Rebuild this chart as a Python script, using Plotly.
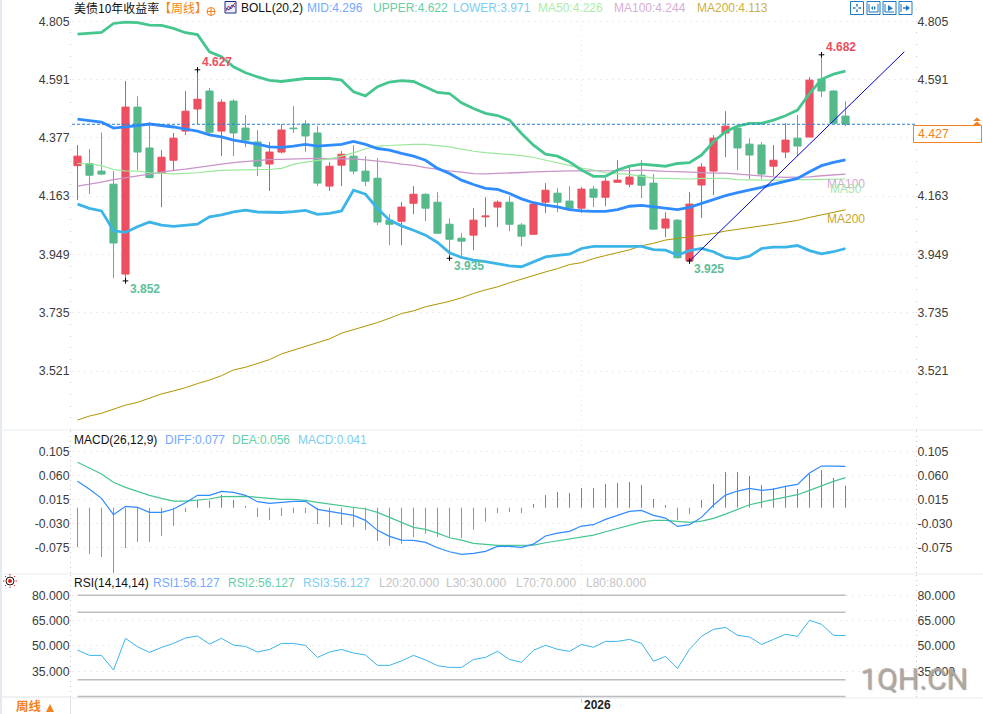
import plotly.graph_objects as go

# ---- weekly candles ----
opens = [4.275,4.283,4.255,4.207,3.877,4.490,4.340,4.247,4.295,4.402,4.483,4.549,4.402,4.512,4.413,4.362,4.281,4.325,4.413,4.428,4.395,4.200,4.277,4.310,4.255,4.229,4.075,4.071,4.137,4.170,4.141,4.060,4.009,4.020,4.087,4.123,4.141,4.057,4.023,4.141,4.174,4.145,4.119,4.189,4.159,4.214,4.207,4.240,4.211,4.046,4.075,3.926,4.204,4.255,4.395,4.413,4.354,4.351,4.273,4.325,4.376,4.380,4.593,4.549,4.457]
closes = [4.310,4.240,4.244,3.991,4.490,4.325,4.231,4.306,4.376,4.475,4.519,4.398,4.508,4.395,4.369,4.273,4.325,4.406,4.411,4.384,4.211,4.273,4.317,4.255,4.218,4.068,4.060,4.123,4.170,4.119,4.027,4.005,3.998,4.075,4.090,4.141,4.060,4.016,4.134,4.185,4.141,4.119,4.189,4.159,4.218,4.222,4.233,4.203,4.042,4.079,3.937,4.134,4.270,4.376,4.420,4.340,4.314,4.244,4.295,4.369,4.347,4.589,4.549,4.431,4.427]
highs = [4.351,4.336,4.397,4.255,4.586,4.530,4.435,4.332,4.395,4.549,4.627,4.560,4.519,4.519,4.461,4.406,4.362,4.428,4.494,4.442,4.420,4.288,4.328,4.350,4.310,4.303,4.097,4.141,4.200,4.174,4.178,4.082,4.027,4.119,4.159,4.148,4.163,4.064,4.134,4.211,4.192,4.200,4.196,4.200,4.229,4.295,4.277,4.295,4.244,4.104,4.079,4.178,4.284,4.387,4.475,4.420,4.376,4.362,4.351,4.431,4.461,4.600,4.682,4.552,4.512]
lows = [4.149,4.171,4.242,3.862,3.852,4.259,4.231,4.123,4.254,4.387,4.428,4.384,4.310,4.310,4.343,4.237,4.182,4.320,4.395,4.325,4.200,4.182,4.200,4.244,4.200,4.057,3.983,3.983,4.097,4.071,4.027,3.935,3.943,3.965,4.049,4.049,4.034,3.979,4.023,4.101,4.104,4.112,4.101,4.123,4.126,4.214,4.196,4.156,4.042,4.013,3.934,3.925,4.083,4.167,4.306,4.259,4.226,4.226,4.237,4.303,4.310,4.380,4.527,4.431,4.420]

# ---- Bollinger bands and moving averages ----
boll_upper = [4.758,4.761,4.764,4.797,4.802,4.800,4.791,4.790,4.779,4.763,4.756,4.693,4.675,4.638,4.616,4.601,4.588,4.584,4.589,4.595,4.595,4.595,4.589,4.546,4.531,4.565,4.582,4.587,4.584,4.565,4.544,4.540,4.506,4.485,4.467,4.459,4.442,4.393,4.350,4.317,4.310,4.289,4.259,4.236,4.236,4.259,4.273,4.281,4.277,4.273,4.283,4.286,4.314,4.363,4.400,4.420,4.430,4.430,4.442,4.458,4.479,4.540,4.592,4.611,4.622]
boll_mid = [4.446,4.440,4.435,4.413,4.417,4.422,4.428,4.423,4.417,4.409,4.402,4.388,4.381,4.369,4.362,4.354,4.344,4.342,4.347,4.353,4.347,4.349,4.353,4.364,4.353,4.338,4.332,4.320,4.310,4.295,4.265,4.246,4.222,4.206,4.192,4.188,4.173,4.153,4.139,4.130,4.124,4.114,4.109,4.107,4.107,4.114,4.126,4.129,4.124,4.117,4.114,4.122,4.136,4.152,4.165,4.176,4.185,4.195,4.207,4.218,4.228,4.253,4.275,4.287,4.296]
boll_lower = [4.134,4.118,4.109,4.036,4.030,4.051,4.068,4.057,4.052,4.057,4.060,4.087,4.094,4.105,4.112,4.105,4.103,4.103,4.106,4.111,4.096,4.100,4.109,4.185,4.170,4.118,4.075,4.054,4.038,4.020,3.993,3.955,3.938,3.928,3.923,3.916,3.907,3.904,3.922,3.940,3.946,3.950,3.971,3.979,3.979,3.979,3.979,3.979,3.967,3.965,3.947,3.963,3.971,3.959,3.938,3.933,3.943,3.971,3.976,3.976,3.982,3.963,3.951,3.959,3.971]
ma50 = [4.283,4.282,4.275,4.261,4.256,4.255,4.249,4.247,4.245,4.247,4.249,4.254,4.258,4.259,4.260,4.261,4.261,4.265,4.280,4.288,4.294,4.300,4.310,4.322,4.337,4.347,4.349,4.352,4.353,4.353,4.349,4.344,4.336,4.328,4.323,4.320,4.317,4.312,4.305,4.295,4.285,4.276,4.266,4.259,4.249,4.246,4.243,4.236,4.229,4.228,4.227,4.226,4.228,4.229,4.228,4.224,4.222,4.222,4.222,4.222,4.223,4.224,4.225,4.226,4.226]
ma100 = [4.200,4.207,4.215,4.224,4.231,4.237,4.244,4.250,4.258,4.262,4.269,4.275,4.281,4.286,4.291,4.294,4.297,4.298,4.300,4.302,4.302,4.300,4.301,4.300,4.296,4.292,4.287,4.281,4.276,4.268,4.261,4.256,4.251,4.246,4.245,4.246,4.248,4.250,4.252,4.254,4.255,4.256,4.256,4.256,4.255,4.256,4.257,4.259,4.256,4.254,4.253,4.251,4.249,4.248,4.248,4.244,4.240,4.238,4.234,4.232,4.232,4.234,4.238,4.241,4.244]
ma200 = [3.341,3.356,3.366,3.380,3.396,3.406,3.421,3.437,3.448,3.460,3.475,3.488,3.504,3.525,3.535,3.549,3.563,3.584,3.598,3.612,3.625,3.639,3.660,3.673,3.688,3.699,3.715,3.732,3.742,3.757,3.767,3.777,3.790,3.806,3.819,3.830,3.845,3.859,3.873,3.885,3.897,3.912,3.919,3.934,3.945,3.955,3.966,3.981,3.990,4.002,4.008,4.013,4.020,4.026,4.035,4.042,4.048,4.054,4.060,4.067,4.074,4.085,4.094,4.102,4.113]

# Hand-drawn support line from the 3.925 low
trend_x = [51, 68.9]
trend_y = [3.925, 4.693]

# ---- MACD ----
diff = [0.0491,0.0342,0.0174,-0.0130,0.0025,0.0006,-0.0087,-0.0087,-0.0025,0.0093,0.0230,0.0230,0.0304,0.0286,0.0230,0.0112,0.0081,0.0099,0.0118,0.0118,-0.0031,-0.0068,-0.0106,-0.0143,-0.0236,-0.0422,-0.0534,-0.0603,-0.0609,-0.0646,-0.0746,-0.0820,-0.0870,-0.0851,-0.0814,-0.0721,-0.0721,-0.0740,-0.0678,-0.0528,-0.0473,-0.0442,-0.0342,-0.0317,-0.0218,-0.0150,-0.0069,-0.0050,-0.0143,-0.0193,-0.0348,-0.0317,-0.0181,0.0049,0.0235,0.0310,0.0360,0.0322,0.0347,0.0397,0.0434,0.0645,0.0775,0.0775,0.077]
dea = [0.0845,0.0733,0.0627,0.0472,0.0379,0.0304,0.0230,0.0174,0.0124,0.0124,0.0143,0.0162,0.0205,0.0211,0.0211,0.0193,0.0174,0.0155,0.0155,0.0137,0.0099,0.0068,0.0044,0.0006,-0.0025,-0.0087,-0.0180,-0.0261,-0.0367,-0.0404,-0.0473,-0.0560,-0.0603,-0.0665,-0.0684,-0.0702,-0.0702,-0.0702,-0.0696,-0.0653,-0.0615,-0.0584,-0.0553,-0.0510,-0.0448,-0.0386,-0.0330,-0.0268,-0.0237,-0.0237,-0.0255,-0.0274,-0.0249,-0.0199,-0.0119,-0.0032,0.0055,0.0105,0.0155,0.0198,0.0242,0.0322,0.0409,0.0490,0.056]
macd_hist = [-0.0733,-0.0863,-0.0919,-0.1217,-0.0751,-0.0640,-0.0640,-0.0528,-0.0341,-0.0081,0.0143,0.0131,0.0236,0.0143,0.0031,-0.0174,-0.0230,-0.0155,-0.0099,-0.0099,-0.0304,-0.0360,-0.0323,-0.0360,-0.0416,-0.0621,-0.0714,-0.0671,-0.0547,-0.0485,-0.0547,-0.0547,-0.0566,-0.0410,-0.0261,-0.0100,-0.0081,-0.0100,0.0068,0.0235,0.0291,0.0273,0.0366,0.0366,0.0440,0.0459,0.0478,0.0422,0.0161,0.0049,-0.0230,-0.0119,0.0142,0.0440,0.0664,0.0664,0.0589,0.0422,0.0366,0.0391,0.0347,0.0627,0.0701,0.0552,0.041]

# ---- RSI (the three periods coincide) ----
rsi = [47.6,44.4,44.4,35.7,54.5,49.5,46.2,49.1,51.5,54.7,55.9,51.1,54.5,50.5,49.7,46.4,47.9,51.5,51.5,50.3,43.2,46.4,47.9,45.8,44.6,38.5,38.5,41.1,44.4,41.7,38.3,37.3,37.3,42.0,43.2,46.8,42.0,40.3,47.4,50.4,48.0,46.8,50.9,49.2,52.7,52.7,53.9,51.5,40.9,43.8,36.7,48.0,55.7,59.8,61.0,56.3,55.3,50.9,53.9,56.9,55.7,65.2,62.8,56.3,56.127]
rsi_levels = [20, 30, 70, 80]

# ---- axis ticks and text ----
price_ticks = [4.805, 4.591, 4.377, 4.163, 3.949, 3.735, 3.521]
# The right-hand scale gives up 4.377 to the latest-price tag
price_ticks_right = [4.805, 4.591, 4.163, 3.949, 3.735, 3.521]
macd_ticks = [0.105, 0.060, 0.015, -0.030, -0.075]
rsi_ticks = [80, 65, 50, 35]
year_index = 42
year_label = "2026"
chart_title = "美债10年收益率"
period_label = "周线"
last_price = closes[-1]
# (bar index, value, above?) of the marked extremes
extremes = [(10, highs[10], True), (4, lows[4], False), (31, lows[31], False), (51, lows[51], False), (62, highs[62], True)]

index = list(range(len(closes)))

RED = "#ec4f60"
GREEN = "#55b98a"
UPPER = "#45c68f"
MID = "#2f8cff"
LOWER = "#3bb4e8"
C50 = "#9be89b"
C100 = "#c994c9"
C200 = "#b09400"
SANS = "Liberation Sans, Noto Sans CJK SC, sans-serif"
CJK = "Noto Sans CJK SC, Liberation Sans, sans-serif"

W, H = 983, 714
L, R, B = 72, 68, 16
PW, PH = W - L - R, H - B
MAIN_BOTTOM, MACD_BOTTOM = 430, 574


def px(x):
    return (x - L) / PW


def py(y):
    return (PH - y) / PH


fig = go.Figure()

fig.add_trace(go.Candlestick(
    x=index, open=opens, high=highs, low=lows, close=closes, whiskerwidth=0,
    increasing=dict(line=dict(color=RED, width=1), fillcolor=RED),
    decreasing=dict(line=dict(color=GREEN, width=1), fillcolor=GREEN),
    hoverinfo="skip", xaxis="x", yaxis="y"))

for series, color, width in [(ma200, C200, 1), (ma100, C100, 1.3), (ma50, C50, 1.2),
                             (boll_upper, UPPER, 2.8), (boll_lower, LOWER, 2.8), (boll_mid, MID, 2.8)]:
    fig.add_trace(go.Scatter(x=index, y=series, mode="lines", line=dict(color=color, width=width),
                             hoverinfo="skip", xaxis="x", yaxis="y"))

fig.add_trace(go.Scatter(x=trend_x, y=trend_y, mode="lines", line=dict(color="#0000d8", width=1),
                         hoverinfo="skip", xaxis="x", yaxis="y"))

fig.add_trace(go.Scatter(
    x=[e[0] for e in extremes], y=[e[1] for e in extremes], mode="markers",
    marker=dict(symbol="cross-thin", size=4, line=dict(color="#000000", width=1)),
    hoverinfo="skip", xaxis="x", yaxis="y"))


def stems(keep):
    """One-pixel histogram stems from zero, split by sign, separated by gaps."""
    xs, ys = [], []
    for i, v in zip(index, macd_hist):
        if keep(v):
            xs += [i, i, None]
            ys += [0, v, None]
    return xs, ys


for keep, color in [(lambda v: v > 0, RED), (lambda v: v <= 0, GREEN)]:
    xs, ys = stems(keep)
    fig.add_trace(go.Scatter(x=xs, y=ys, mode="lines", line=dict(color=color, width=1),
                             hoverinfo="skip", xaxis="x", yaxis="y2"))
fig.add_trace(go.Scatter(x=index, y=dea, mode="lines", line=dict(color=UPPER, width=1.2),
                         hoverinfo="skip", xaxis="x", yaxis="y2"))
fig.add_trace(go.Scatter(x=index, y=diff, mode="lines", line=dict(color=MID, width=1.2),
                         hoverinfo="skip", xaxis="x", yaxis="y2"))

for level in rsi_levels:
    fig.add_trace(go.Scatter(x=[index[0], index[-1]], y=[level, level], mode="lines",
                             line=dict(color="#bdbdbd", width=1.6),
                             hoverinfo="skip", xaxis="x", yaxis="y3"))
fig.add_trace(go.Scatter(x=index, y=rsi, mode="lines", line=dict(color=LOWER, width=1),
                         hoverinfo="skip", xaxis="x", yaxis="y3"))

# Single-point traces keep the right-hand axes on the page
for axis, value in [("y4", price_ticks[0]), ("y5", macd_ticks[0]), ("y6", rsi_ticks[0])]:
    fig.add_trace(go.Scatter(x=[0], y=[value], mode="lines", line=dict(width=0),
                             hoverinfo="skip", xaxis="x", yaxis=axis))


def y_axis(ticks, rng, domain, minor_step, **extra):
    return dict(
        domain=domain, range=rng, tickvals=ticks, ticktext=[f"{v:.3f}" for v in ticks], fixedrange=True,
        showgrid=True, gridcolor="#ececec", griddash="2px,4px", gridwidth=1,
        zeroline=False, showline=False, ticks="outside", ticklen=1, tickcolor="#cfcfcf",
        ticklabelstandoff=-2,
        tickfont=dict(family=SANS, size=12.3, color="#3c3c3c"),
        minor=dict(ticks="outside", ticklen=1, tickcolor="#c8c8c8", tick0=ticks[0], dtick=minor_step, showgrid=False),
        **extra)


price_range = [4.805 - (MAIN_BOTTOM - 21.3) / 272.4, 4.805 + 21.3 / 272.4]
macd_range = [0.105 - (MACD_BOTTOM - 451.3) / 537, 0.105 + (451.3 - MAIN_BOTTOM) / 537]
rsi_range = [80 - (PH - 595.3) / 1.688, 80 + (595.3 - MACD_BOTTOM) / 1.688]
main_dom = [(PH - MAIN_BOTTOM) / PH, 1]
macd_dom = [(PH - MACD_BOTTOM) / PH, (PH - MAIN_BOTTOM) / PH]
rsi_dom = [0, (PH - MACD_BOTTOM) / PH]

annotations = []


def label(x, y, text, color, size=12, family=SANS, anchor="left"):
    annotations.append(dict(xref="paper", yref="paper", x=px(x), y=py(y), text=text, showarrow=False,
                            xanchor=anchor, yanchor="middle", borderpad=0,
                            font=dict(family=family, size=size, color=color)))


# Indicator legends
label(73, 8, chart_title, "#111111", family=CJK)
label(158, 8, f"【{period_label}】", "#f58220", family=CJK)
label(240, 8, "BOLL(20,2)", "#111111")
label(306, 8, f"MID:{boll_mid[-1]:.3f}", "#73a9ff")
label(372, 8, f"UPPER:{boll_upper[-1]:.3f}", "#66cfa6")
label(452, 8, f"LOWER:{boll_lower[-1]:.3f}", "#7dcdf0")
label(537, 8, f"MA50:{ma50[-1]:.3f}", "#aaecaa")
label(613, 8, f"MA100:{ma100[-1]:.3f}", "#d8aed8")
label(696, 8, f"MA200:{ma200[-1]:.3f}", "#cdb040")

label(73, 440, "MACD(26,12,9)", "#111111")
label(164, 440, f"DIFF:{diff[-1]:.3f}", "#73a9ff")
label(231, 440, f"DEA:{dea[-1]:.3f}", "#66cfa6")
label(297, 440, f"MACD:{macd_hist[-1]:.3f}", "#7dcdf0")

label(73, 583, "RSI(14,14,14)", "#111111")
label(152, 583, f"RSI1:{rsi[-1]:.3f}", "#73a9ff")
label(227, 583, f"RSI2:{rsi[-1]:.3f}", "#66cfa6")
label(302, 583, f"RSI3:{rsi[-1]:.3f}", "#7dcdf0")
for lx, level in zip([378, 445, 515, 585], rsi_levels):
    label(lx, 583, f"L{level}:{level:.3f}", "#c4c4c4")

# Extreme values beside their cross marks
for i, value, above in extremes:
    annotations.append(dict(xref="x", yref="y", x=i, y=value, text=f"<b>{value:.3f}</b>", showarrow=False,
                            xanchor="left", yanchor="middle", xshift=2, yshift=8 if above else -8,
                            font=dict(family=SANS, size=12, color=RED if above else "#5cc097")))

# Moving-average names at the line ends
for series, name, color, shift in [(ma100, "MA100", "#d4a8d4", -10), (ma50, "MA50", "#a8e8a8", -10), (ma200, "MA200", "#c9a628", -9.5)]:
    annotations.append(dict(xref="x", yref="y", x=index[-1], y=series[-1], text=name, showarrow=False,
                            xanchor="center", yanchor="middle", yshift=shift,
                            font=dict(family=SANS, size=12, color=color)))

# Time axis and period tab
annotations.append(dict(xref="x", yref="paper", x=year_index, y=py(705), text=f"<b>{year_label}</b>", showarrow=False,
                        xanchor="left", yanchor="middle", xshift=0,
                        font=dict(family=SANS, size=12, color="#222222")))
label(15, 705, f"<b>{period_label}</b>", "#f58220", size=12.5, family=CJK)

# Site mark in the lower right corner
annotations.append(dict(xref="paper", yref="paper", x=px(913.5), y=py(678), text="1QH.CN", showarrow=False,
                        xanchor="center", yanchor="middle",
                        font=dict(family="Roboto, Liberation Sans, sans-serif", size=30,
                                  color="rgba(178,170,162,0.85)", shadow="1px 1px 1px #8a8a8a")))

shapes = []


def rect(x0, y0, x1, y1, line=None, fill=None, width=1):
    shapes.append(dict(type="rect", xref="paper", yref="paper", x0=px(x0), x1=px(x1), y0=py(y0), y1=py(y1),
                       line=dict(color=line or "rgba(0,0,0,0)", width=width if line else 0),
                       fillcolor=fill or "rgba(0,0,0,0)", layer="above"))


def seg(x0, y0, x1, y1, color, width=1):
    shapes.append(dict(type="line", xref="paper", yref="paper", x0=px(x0), x1=px(x1), y0=py(y0), y1=py(y1),
                       line=dict(color=color, width=width), layer="above"))


def circle(cx, cy, r, line=None, fill=None, width=1):
    shapes.append(dict(type="circle", xref="paper", yref="paper", x0=px(cx - r), x1=px(cx + r), y0=py(cy - r), y1=py(cy + r),
                       line=dict(color=line or "rgba(0,0,0,0)", width=width if line else 0),
                       fillcolor=fill or "rgba(0,0,0,0)", layer="above"))


def poly(points, fill=None, line=None, width=1):
    d = "M" + " L".join(f"{px(x):.5f},{py(y):.5f}" for x, y in points) + (" Z" if fill else "")
    shapes.append(dict(type="path", xref="paper", yref="paper", path=d, fillcolor=fill or "rgba(0,0,0,0)",
                       line=dict(color=line or "rgba(0,0,0,0)", width=width if line else 0), layer="above"))


# Page frame and panel separators
rect(0, 0, 2, H, fill="#e4e8ef")
for sep in (MAIN_BOTTOM, MACD_BOTTOM):
    seg(0, sep, W, sep, "#e8edf2")
seg(L, PH, W, PH, "#e8edf2")

# Last-price dashed line
shapes.append(dict(type="line", xref="paper", yref="y", x0=0, x1=1, y0=last_price, y1=last_price,
                   line=dict(color="#2a7fd8", width=1, dash="3px,2px"), layer="above"))

# Price tag box and arrows
rect(913.5, 125.5, 981.5, 142.5, line="#f58220", fill="#ffffff")
label(917, 134, f"{last_price:.3f}", "#f58220", size=12.3)
poly([(973, 121), (977, 117.5), (981, 121)], fill="#f58220")
poly([(973, 125), (977, 121.5), (981, 125)], fill="#f58220")

# Period tab
seg(2, 697, 70.5, 697, "#dfe3e8")
seg(70.5, 697, 70.5, H, "#dfe3e8")
poly([(46, 712), (50, 704), (54, 712)], fill="#f58220")

# Small add-indicator and BOLL icons in the legend row
circle(211, 11.5, 4, line="#f58220")
seg(207, 11.5, 215, 11.5, "#f58220")
seg(211, 7.5, 211, 15.5, "#f58220")
rect(225, 1.5, 236, 13, line="#1c2b80", fill="#e8f0ff")
poly([(226, 11), (228.5, 6), (231, 9), (235, 3)], line="#d8202a")
poly([(226, 8), (229, 10), (232, 5), (235, 7)], line="#2040c0")

# Panel crosshair icon
circle(10, 581, 4, line="#111111")
circle(10, 581, 2, fill="#e02020")
for dx, dy in [(-7, 0), (7, 0), (0, -7), (0, 7), (-5, -5), (5, -5), (-5, 5), (5, 5)]:
    seg(10 + dx * 0.8, 581 + dy * 0.8, 10 + dx, 581 + dy, "#e02020")

# Toolbar buttons
TB = "#1f78c1"
for x0, x1 in [(850.5, 863.5), (867, 880), (883, 896), (899, 912)]:
    rect(x0, 1.5, x1, 14.5, line=TB, fill="#ffffff")
for a, b, c, d in [(853, 8, 855.5, 8), (858.5, 8, 861, 8), (857, 4, 857, 6.5), (857, 9.5, 857, 12)]:
    seg(a, b, c, d, TB, 1.5)
seg(869, 4, 869, 12, TB)
seg(878, 4, 878, 12, TB)
seg(869, 12, 878, 12, TB)
poly([(871, 8), (873, 6), (873, 10)], fill=TB)
poly([(876, 8), (874, 6), (874, 10)], fill=TB)
seg(885, 4, 885, 12, TB)
seg(885, 12, 894, 12, TB)
poly([(888, 5), (893, 8.5), (888, 11)], fill=TB)
seg(901, 4, 901, 12, TB)
seg(903, 8, 906, 8, TB, 1.5)
poly([(906, 5), (910, 8), (906, 11)], fill=TB)

fig.update_layout(
    width=W, height=H, autosize=False,
    margin=dict(l=L, r=R, t=0, b=B, pad=0),
    paper_bgcolor="#ffffff", plot_bgcolor="#ffffff",
    showlegend=False, boxgap=0.15, hovermode=False,
    xaxis=dict(
        range=[(L - 77.5) / 12, (L + PW - 77.5) / 12], anchor="y3", domain=[0, 1], fixedrange=True,
        rangeslider=dict(visible=False), tickvals=[year_index], showticklabels=False,
        ticks="outside", ticklen=4, tickcolor="#c8c8c8",
        showgrid=True, gridcolor="#e6e6e6", griddash="1px,4px", zeroline=False, showline=False),
    yaxis=y_axis(price_ticks, price_range, main_dom, 0.0428, anchor="x"),
    yaxis2=y_axis(macd_ticks, macd_range, macd_dom, 0.009, anchor="x"),
    yaxis3=y_axis(rsi_ticks, rsi_range, rsi_dom, 3, anchor="x"),
    yaxis4=y_axis(price_ticks_right, price_range, main_dom, 0.0428, anchor="x", side="right", overlaying="y"),
    yaxis5=y_axis(macd_ticks, macd_range, macd_dom, 0.009, anchor="x", side="right", overlaying="y2"),
    yaxis6=y_axis(rsi_ticks, rsi_range, rsi_dom, 3, anchor="x", side="right", overlaying="y3"),
    annotations=annotations,
    shapes=shapes,
)

fig.write_html("out.html", config=dict(displayModeBar=False))
